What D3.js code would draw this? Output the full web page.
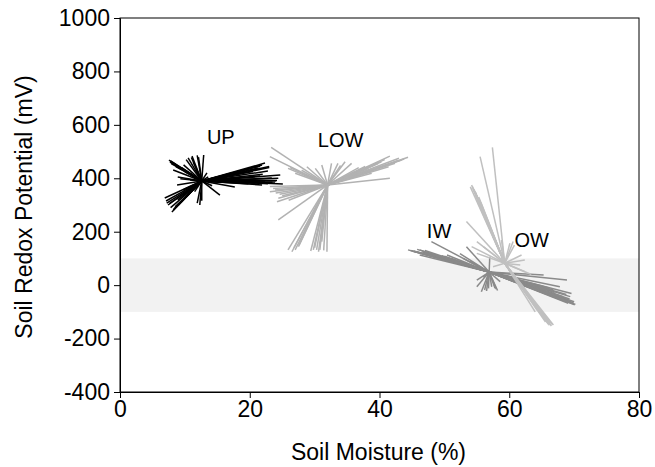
<!DOCTYPE html>
<html><head><meta charset="utf-8">
<script src="https://cdn.jsdelivr.net/npm/d3@7"></script>
<style>body{margin:0;background:#fff;} svg{display:block;} text{font-family:"Liberation Sans",Arial,sans-serif;}</style>
</head><body>
<svg id="c" width="655" height="467"></svg>
<script>
// Axis ticks
const xTicks = [0, 20, 40, 60, 80];
const yTicks = [-400, -200, 0, 200, 400, 600, 800, 1000];
// Group names, label positions (data units) and centroids
const groups = ["UP", "LOW", "IW", "OW"];
const centroidX = [12.6, 32.0, 56.9, 59.3];
const centroidY = [390, 375, 49, 82];
const labelX = [13.4, 30.5, 47.3, 60.8];
const labelY = [528, 516, 177, 142];
// Spoke endpoints per group (soil moisture %, redox mV)
const upX = [7.55,7.7,8.5,8.2,8.9,8.8,10.5,11.1,11.9,12.1,12.9,13.4,13.6,6.9,7.2,7.4,8.0,8.2,8.5,8.9,9.6,11.9,12.6,15.4,22.35,21.9,21.3,24.7,23.4,22.35,21.9,17.7,20.3,18.8,16.2,25.1,23.9,20.0,20.8,19.3,22.8,21.6,10.0,10.8,9.7,11.3,7.9,8.6,9.3,11.5,12.3,14.2,23.0,24.2,19.8,
  24.0,23.5,22.8,21.0,24.4,22.0,20.5,23.0,21.6,7.8,8.0,8.8,9.5,9.8,7.1,7.6,7.8,8.3,9.0,9.4,10.2,11.0];
const upY = [468,461,450,431,405,375,476,483,486,479,487,420,405,326,307,300,274,281,293,319,337,307,316,337,457,450,438,412,401,386,375,367,438,420,401,379,382,386,394,405,427,409,424,394,356,460,455,444,398,350,300,372,444,392,380,
  390,385,380,383,400,415,425,440,445,465,458,446,440,450,315,305,290,285,300,310,470,478];
const lowX = [23.3,23.1,27.0,25.9,23.1,23.1,23.9,24.2,24.4,24.4,26.5,25.9,27.0,27.5,29.8,30.3,30.8,31.9,31.1,28.8,30.1,31.1,32.6,33.6,34.7,35.7,41.6,44.4,43.4,42.4,41.4,40.3,39.3,38.3,37.3,41.6,38.8,36.2,26.2,28.0,30.6,29.4,24.6,43.8,40.8,34.0,27.6,
  23.6,24.0,25.0,26.0,30.0,31.4,42.8,43.0,39.8,37.8,36.8,26.8];
const lowY = [516,481,419,437,369,350,356,312,325,244,125,132,132,144,132,132,132,125,163,443,437,450,456,456,462,456,483,479,468,456,443,462,450,437,431,400,419,425,440,430,125,128,340,472,470,448,150,
  362,345,335,318,140,130,466,475,455,444,440,140];
const iwX = [44.4,46.2,48.0,47.3,48.8,50.4,51.4,46.2,45.7,52.9,53.4,57.0,55.7,56.2,56.8,57.3,57.8,55.0,58.6,55.0,70.1,69.1,69.4,68.9,67.8,66.8,65.3,69.1,69.6,68.3,69.9,67.3,45.0,47.0,49.6,54.0,58.2,56.0,68.6,70.0,52.4,
  44.8,45.3,46.6,47.8,48.2,49.2,50.0,51.0,47.0,45.8,68.5,69.3,68.0,67.0,66.0,69.8,68.8,70.2,56.5,58.0];
const iwY = [132,132,163,119,106,113,94,113,125,100,144,106,-25,-18,-12,-6,-12,19,13,-6,-74,-68,-43,19,-6,-18,38,-56,-31,-43,-66,-37,128,122,110,90,-20,30,-50,-62,118,
  130,128,124,118,115,110,108,100,130,134,-60,-52,-48,-28,-10,-70,-35,-72,-22,-15];
const owX = [57.4,55.5,54.2,54.6,54.9,55.0,54.4,53.4,54.2,55.0,56.0,60.1,60.6,61.9,62.4,61.7,62.4,58.8,55.0,57.5,66.8,66.3,66.5,65.8,65.2,54.0,54.8,55.3,63.4,60.8,55.6,66.0,64.0,
  66.2,66.0,65.6,66.6,65.4,64.8,64.4,54.3,54.5,54.7,54.8,55.1,55.3,55.6];
const owY = [516,481,375,356,337,319,362,238,144,163,144,157,163,113,94,75,50,169,119,69,-149,-143,-153,-130,-112,368,348,330,40,150,300,-140,-100,
  -150,-146,-138,-147,-125,-105,-96,370,360,350,343,330,322,310];
const groupColors = ["#000000", "#b2b2b2", "#8a8a8a", "#c0c0c0"];

const svg = d3.select("#c");
const m = {l:120, r:639, t:18, b:392};
const x = d3.scaleLinear().domain([0, 80]).range([m.l, m.r]);
const y = d3.scaleLinear().domain([-400, 1000]).range([m.b, m.t]);

// shaded band -100..100
svg.append("rect").attr("x", x(0)).attr("width", x(80) - x(0))
  .attr("y", y(100)).attr("height", y(-100) - y(100)).attr("fill", "#f2f2f2");

const ends = [[upX, upY], [lowX, lowY], [iwX, iwY], [owX, owY]];
const order = [1, 0, 2, 3];
order.forEach(g => {
  const [ex, ey] = ends[g];
  const segs = ex.map((v, i) => ({x1: centroidX[g], y1: centroidY[g], x2: v, y2: ey[i]}));
  svg.append("g").selectAll("line").data(segs).join("line")
    .attr("x1", d => x(d.x1)).attr("y1", d => y(d.y1))
    .attr("x2", d => x(d.x2)).attr("y2", d => y(d.y2))
    .attr("stroke", groupColors[g]).attr("stroke-width", 1.5);
});

// group labels
svg.append("g").selectAll("text").data(groups).join("text")
  .attr("x", (d, i) => x(labelX[i])).attr("y", (d, i) => y(labelY[i]))
  .attr("font-size", 20).attr("fill", "#000").text(d => d);

// frame
svg.append("rect").attr("x", m.l).attr("y", m.t).attr("width", m.r - m.l).attr("height", m.b - m.t)
  .attr("fill", "none").attr("stroke", "#000").attr("stroke-width", 1);

const fmt = d => String(d);
const xa = svg.append("g").attr("transform", `translate(0,${m.b})`)
  .call(d3.axisBottom(x).tickValues(xTicks).tickSize(6).tickPadding(3).tickFormat(fmt));
const ya = svg.append("g").attr("transform", `translate(${m.l},0)`)
  .call(d3.axisLeft(y).tickValues(yTicks).tickSize(6).tickPadding(4).tickFormat(fmt));
[xa, ya].forEach(a => {
  a.select(".domain").attr("stroke", "#000");
  a.selectAll(".tick line").attr("stroke", "#000");
  a.selectAll("text").attr("font-size", 23).attr("fill", "#000").attr("font-family", "Liberation Sans, Arial, sans-serif");
});

svg.append("text").attr("x", (m.l + m.r) / 2 - 1).attr("y", 460).attr("text-anchor", "middle")
  .attr("font-size", 23).text("Soil Moisture (%)");
svg.append("text").attr("transform", `translate(32,${(m.t + m.b) / 2 + 2}) rotate(-90)`)
  .attr("text-anchor", "middle").attr("font-size", 23).text("Soil Redox Potential (mV)");
</script>
</body></html>
